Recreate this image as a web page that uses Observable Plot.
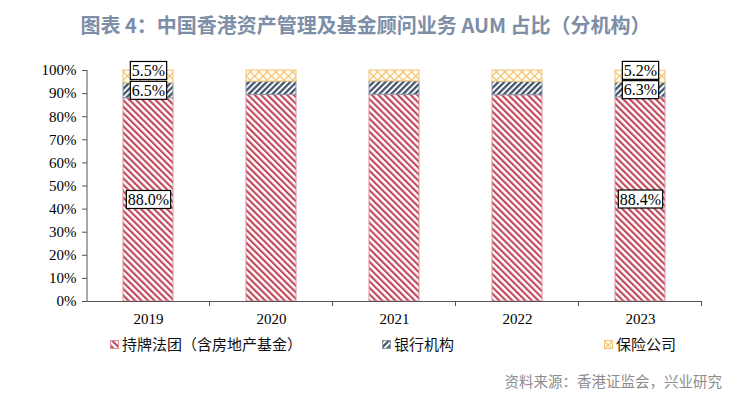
<!DOCTYPE html>
<html>
<head>
<meta charset="utf-8">
<script src="https://cdn.jsdelivr.net/npm/d3@7"></script>
<script src="https://cdn.jsdelivr.net/npm/@observablehq/plot@0.6"></script>
<style>
  html, body { margin: 0; padding: 0; background: #fff; }
  #wrap { position: relative; width: 738px; height: 399px; overflow: hidden; }
  #title { position: absolute; left: 0; top: 10px; width: 731px; text-align: center;
    font-family: "Noto Sans CJK SC", "Noto Sans", sans-serif; font-weight: 700; font-size: 20px; color: #7d8ea6; }
  #chart { position: absolute; left: 0; top: 50px; }
  .leg { position: absolute; top: 334px; font-family: "Noto Sans CJK SC", sans-serif; font-size: 15px; color: #111; line-height: 20px; white-space: nowrap; }
  .leg svg { vertical-align: middle; margin-right: 3px; position: relative; top: -1px; }
  #source { position: absolute; right: 16px; top: 370px; font-family: "Noto Sans CJK SC", sans-serif; font-size: 14.5px; color: #8c8c8c; }
</style>
</head>
<body>
<svg width="0" height="0" style="position:absolute">
  <defs>
    <pattern id="pat-red" patternUnits="userSpaceOnUse" width="4.6" height="4.6" patternTransform="rotate(-45)">
      <rect width="4.6" height="4.6" fill="#fff"/>
      <line x1="1.1" y1="0" x2="1.1" y2="4.6" stroke="#bf4456" stroke-width="2.1"/>
    </pattern>
    <pattern id="pat-blue" patternUnits="userSpaceOnUse" width="4.2" height="4.2" patternTransform="rotate(45)">
      <rect width="4.2" height="4.2" fill="#fff"/>
      <line x1="1.2" y1="0" x2="1.2" y2="4.2" stroke="#44546a" stroke-width="2.3"/>
    </pattern>
    <pattern id="pat-yellow" patternUnits="userSpaceOnUse" width="6" height="6" patternTransform="rotate(45)">
      <rect width="6" height="6" fill="#fffaf0"/>
      <line x1="0.5" y1="0" x2="0.5" y2="6" stroke="#efbd60" stroke-width="1"/>
      <line x1="0" y1="0.5" x2="6" y2="0.5" stroke="#efbd60" stroke-width="1"/>
    </pattern>
  </defs>
</svg>
<div id="wrap">
  <div id="title">图表 4：中国香港资产管理及基金顾问业务 AUM 占比（分机构）</div>
  <div id="chart"></div>
  <div id="legend"></div>
  <div id="source">资料来源：香港证监会，兴业研究</div>
</div>
<script>
// ---- data ----
const years = ["2019", "2020", "2021", "2022", "2023"];
const licensed = [88.0, 89.4, 89.5, 89.3, 88.4];
const banks = [6.5, 5.8, 5.8, 5.8, 6.3];
const insurers = [5.5, 4.8, 4.7, 4.9, 5.2];
const seriesNames = ["持牌法团（含房地产基金）", "银行机构", "保险公司"];
const labelYears = ["2019", "2023"];
const yTicks = [0, 10, 20, 30, 40, 50, 60, 70, 80, 90, 100];

// ---- styles ----
const fills = ["url(#pat-red)", "url(#pat-blue)", "url(#pat-yellow)"];
const strokes = ["#dc8f9c", "#8b99ad", "#f2c577"];
const serif = "'Liberation Serif', 'Times New Roman', serif";

const seriesValues = [licensed, banks, insurers];
const rows = [];
years.forEach((yr, i) => {
  let cum = 0;
  seriesValues.forEach((vals, s) => {
    rows.push({year: yr, series: seriesNames[s], s, value: vals[i], y1: cum, y2: cum + vals[i]});
    cum += vals[i];
  });
});
const labelRows = rows.filter(d => labelYears.includes(d.year));

const bars = seriesNames.map((name, s) =>
  Plot.barY(rows.filter(d => d.s === s), {
    x: "year", y1: "y1", y2: "y2",
    fill: fills[s], stroke: strokes[s], strokeWidth: 1
  })
);

const plot = Plot.plot({
  width: 738,
  height: 281,
  marginLeft: 87,
  marginRight: 36,
  marginTop: 20,
  marginBottom: 30,
  style: {fontFamily: serif, fontSize: "15px", color: "#000", background: "transparent"},
  x: {domain: years, paddingInner: 0.59, paddingOuter: 0.295, align: 0.5, label: null},
  y: {domain: [0, 100], label: null},
  marks: [
    ...bars,
    Plot.axisY({ticks: yTicks, tickFormat: d => d + "%", tickSize: 5, tickPadding: 6, fontSize: 15, stroke: "#555", fill: "#000"}),
    Plot.axisX({tickSize: 0, tickPadding: 12, fontSize: 15, fill: "#000"}),
    Plot.ruleY([0], {stroke: "#555", strokeWidth: 1}),
    Plot.text(labelRows.filter(d => d.s < 2), {
      x: "year", y: d => (d.y1 + d.y2) / 2, text: d => d.value.toFixed(1) + "%",
      fontFamily: serif, fontSize: 16, fill: "#000", className: "boxlbl"
    }),
    Plot.text(labelRows.filter(d => d.s === 2), {
      x: "year", y: d => (d.y1 + d.y2) / 2, dy: -6, text: d => d.value.toFixed(1) + "%",
      fontFamily: serif, fontSize: 16, fill: "#000", className: "boxlbl"
    })
  ]
});
document.getElementById("chart").appendChild(plot);

// axis lines and category boundary ticks using the plot's own scales
const xs = plot.scale("x"), ys = plot.scale("y");
const svg = d3.select(plot);
const step = xs.step;
const yTop = ys.apply(100), yBase = ys.apply(0);
const x0 = xs.apply(years[0]) + xs.bandwidth / 2 - step / 2;
const g = svg.append("g").attr("stroke", "#555").attr("stroke-width", 1);
g.append("line").attr("x1", x0 + 0.5).attr("x2", x0 + 0.5).attr("y1", yTop).attr("y2", yBase);
years.forEach((yr) => {
  const bx = xs.apply(yr) + xs.bandwidth / 2 + step / 2;
  g.append("line").attr("x1", bx).attr("x2", bx).attr("y1", yBase).attr("y2", yBase + 5);
});

// boxes behind labels (same transform as the text)
svg.selectAll("g.boxlbl text").each(function() {
  const b = this.getBBox();
  const r = d3.select(this.parentNode).insert("rect", () => this)
    .attr("x", b.x - 1.5).attr("y", b.y - 0.5)
    .attr("width", b.width + 3).attr("height", b.height + 1)
    .attr("fill", "#fff").attr("stroke", "#000").attr("stroke-width", 1.2);
  const t = this.getAttribute("transform");
  if (t) r.attr("transform", t);
});

// legend
const legendPos = [110, 382, 604];
const legend = document.getElementById("legend");
seriesNames.forEach((name, s) => {
  const d = document.createElement("div");
  d.className = "leg";
  d.style.left = legendPos[s] + "px";
  d.innerHTML = `<svg width="9" height="9"><rect x="0.5" y="0.5" width="8" height="8" fill="${fills[s]}" stroke="${strokes[s]}"/></svg>${name}`;
  legend.appendChild(d);
});
</script>
</body>
</html>
